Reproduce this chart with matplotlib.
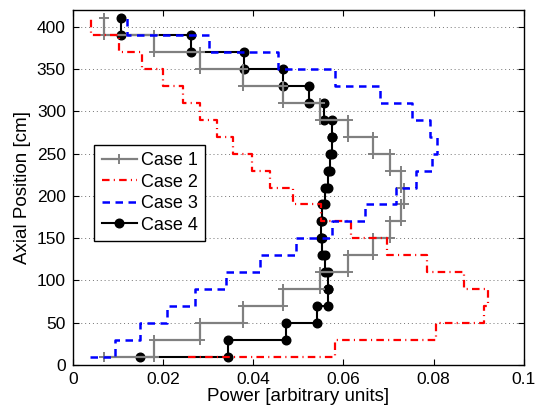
import numpy as np
import matplotlib
matplotlib.use('Agg')
import matplotlib.pyplot as plt

plt.rcParams['font.family'] = ['Liberation Sans', 'DejaVu Sans']

# axial node positions [cm]
axial = [10, 30, 50, 70, 90, 110, 130, 150, 170, 190, 210,
         230, 250, 270, 290, 310, 330, 350, 370, 390, 410]

# power per node, bottom to top
case1 = [0.0069, 0.0181, 0.0282, 0.0378, 0.0467, 0.0548, 0.0611, 0.0665,
         0.0703, 0.0728, 0.0734, 0.0728, 0.0703, 0.0665, 0.0611, 0.0548,
         0.0467, 0.0378, 0.0282, 0.0181, 0.0069]
case2 = [0.0255, 0.0581, 0.0806, 0.0911, 0.0921, 0.0867, 0.0785, 0.0696,
         0.0616, 0.0550, 0.0488, 0.0437, 0.0397, 0.0356, 0.0319, 0.0282,
         0.0245, 0.0201, 0.0153, 0.0103, 0.0040]
case3 = [0.0038, 0.0094, 0.0149, 0.0208, 0.0271, 0.0339, 0.0415, 0.0496,
         0.0574, 0.0648, 0.0716, 0.0762, 0.0796, 0.0807, 0.0792, 0.0751,
         0.0681, 0.0581, 0.0454, 0.0302, 0.0120]
case4 = [0.0149, 0.0345, 0.0472, 0.0541, 0.0565, 0.0566, 0.0560, 0.0553,
         0.0551, 0.0553, 0.0559, 0.0566, 0.0571, 0.0574, 0.0575, 0.0558,
         0.0524, 0.0467, 0.0380, 0.0262, 0.0107]

labels = ['Case 1', 'Case 2', 'Case 3', 'Case 4']
xticks = [0, 0.02, 0.04, 0.06, 0.08, 0.1]
xticklabels = ['0', '0.02', '0.04', '0.06', '0.08', '0.1']
yticks = [0, 50, 100, 150, 200, 250, 300, 350, 400]


def stairs(power, z):
    # horizontal step at each node, then vertical jump to the next node
    p = np.repeat(np.asarray(power), 2)[1:]
    h = np.repeat(np.asarray(z), 2)[:-1]
    return p, h


fig = plt.figure(figsize=(5.36, 4.12), dpi=100)
ax = fig.add_axes([72.8 / 536, 1 - 365 / 412, 451 / 536, 355 / 412])

x1, y1 = stairs(case1, axial)
x2, y2 = stairs(case2, axial)
x3, y3 = stairs(case3, axial)
x4, y4 = stairs(case4, axial)

h4, = ax.plot(x4, y4, color='k', lw=1.5, marker='o', ms=6.2, zorder=2.0)
h1, = ax.plot(x1, y1, color='0.5', lw=1.6, marker='+', ms=6.5, mew=1.4,
              zorder=2.2)
h2, = ax.plot(x2, y2, color='red', lw=1.6, dashes=(3.4, 1.9, 0.5, 1.9),
              zorder=2.4)
h3, = ax.plot(x3, y3, color='blue', lw=1.8, dashes=(3.0, 2.2), zorder=2.6)

ax.set_xlim(0, 0.1)
ax.set_ylim(0, 420)
ax.set_xticks(xticks)
ax.set_xticklabels(xticklabels)
ax.set_yticks(yticks)
ax.grid(True, axis='y', color='0.45', linestyle=(0, (1, 3)), lw=0.7)
ax.set_axisbelow(True)

ax.tick_params(direction='in', length=4, width=0.8, top=True, right=True,
               labelsize=12.5, pad=5)
for s in ax.spines.values():
    s.set_linewidth(1.0)

ax.set_xlabel('Power [arbitrary units]', fontsize=13.5, labelpad=1)
ax.set_ylabel('Axial Position [cm]', fontsize=13.5, labelpad=4)

leg = ax.legend([h1, h2, h3, h4], labels, loc='upper left',
                bbox_to_anchor=(94.3 / 536, 1 - 145 / 412),
                bbox_transform=fig.transFigure, borderaxespad=0,
                fontsize=13, handlelength=1.95, handletextpad=0.25,
                labelspacing=0.25, borderpad=0.4, fancybox=False,
                framealpha=1, edgecolor='k')
leg.get_frame().set_linewidth(1.0)

fig.savefig('out.png', dpi=100)
